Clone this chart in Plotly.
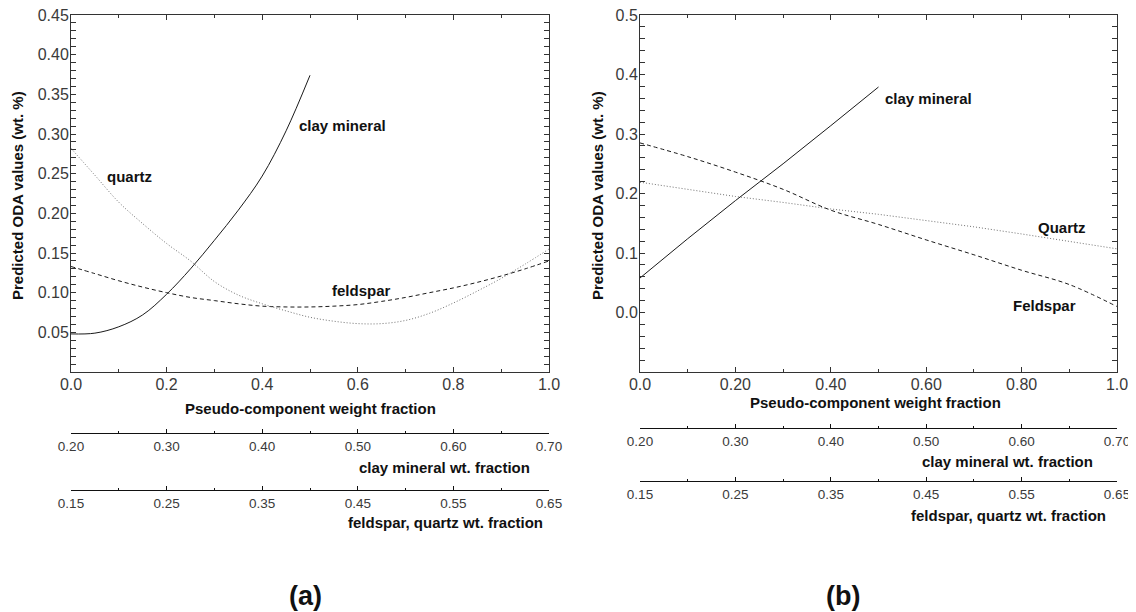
import plotly.graph_objects as go

# page is 1136x612; the html body keeps an 8px margin, so the figure starts 8px in
W, H = 1128, 604
OX, OY = 8, 8

# ---------------- data: panel (a) ----------------
x_a = [0.0, 0.05, 0.10, 0.15, 0.20, 0.25, 0.30, 0.35, 0.40, 0.45, 0.50,
       0.55, 0.60, 0.65, 0.70, 0.75, 0.80, 0.85, 0.90, 0.95, 1.0]
clay_x_a = [0.0, 0.05, 0.10, 0.15, 0.20, 0.25, 0.30, 0.35, 0.40, 0.45, 0.50]
clay_a = [0.048, 0.049, 0.057, 0.072, 0.098, 0.130, 0.166, 0.204, 0.247, 0.304, 0.374]
feldspar_a = [0.133, 0.124, 0.115, 0.107, 0.100, 0.094, 0.090, 0.086, 0.083, 0.082, 0.082,
              0.083, 0.085, 0.089, 0.094, 0.100, 0.106, 0.113, 0.121, 0.130, 0.140]
quartz_a = [0.282, 0.248, 0.214, 0.187, 0.162, 0.140, 0.114, 0.097, 0.086, 0.077, 0.069,
            0.064, 0.061, 0.061, 0.065, 0.074, 0.087, 0.102, 0.118, 0.136, 0.155]

# ---------------- data: panel (b) ----------------
x_b = [0.0, 0.1, 0.2, 0.3, 0.4, 0.5, 0.6, 0.7, 0.8, 0.9, 1.0]
clay_x_b = [0.0, 0.1, 0.2, 0.3, 0.4, 0.5]
clay_b = [0.058, 0.124, 0.188, 0.250, 0.314, 0.379]
feldspar_b = [0.285, 0.262, 0.236, 0.207, 0.172, 0.148, 0.122, 0.097, 0.071, 0.047, 0.010]
quartz_b = [0.219, 0.207, 0.195, 0.185, 0.174, 0.165, 0.155, 0.144, 0.132, 0.120, 0.107]

# ---------------- tick labels ----------------
ya_vals = [0.05, 0.10, 0.15, 0.20, 0.25, 0.30, 0.35, 0.40, 0.45]
ya_text = ["0.05", "0.10", "0.15", "0.20", "0.25", "0.30", "0.35", "0.40", "0.45"]
yb_vals = [0.0, 0.1, 0.2, 0.3, 0.4, 0.5]
yb_text = ["0.0", "0.1", "0.2", "0.3", "0.4", "0.5"]
xa_vals = [0.0, 0.2, 0.4, 0.6, 0.8, 1.0]
xa_text = ["0.0", "0.2", "0.4", "0.6", "0.8", "1.0"]
xb_text = ["0.0", "0.20", "0.40", "0.60", "0.80", "1.0"]
clay_vals = [0.20, 0.30, 0.40, 0.50, 0.60, 0.70]
clay_text = ["0.20", "0.30", "0.40", "0.50", "0.60", "0.70"]
fq_vals = [0.15, 0.25, 0.35, 0.45, 0.55, 0.65]
fq_text = ["0.15", "0.25", "0.35", "0.45", "0.55", "0.65"]

FONT = "Liberation Sans, Arial, sans-serif"
TICKC = "#3a3a3a"


def px(x):
    return (x - OX) / W


def py(y):
    return 1 - (y - OY) / H


fig = go.Figure()

# panel (a)
fig.add_trace(go.Scatter(x=clay_x_a, y=clay_a, mode="lines", line=dict(color="#1a1a1a", width=1, shape="spline"),
                         xaxis="x", yaxis="y"))
fig.add_trace(go.Scatter(x=x_a, y=feldspar_a, mode="lines",
                         line=dict(color="#1a1a1a", width=1, dash="4px,3px", shape="spline"), xaxis="x", yaxis="y"))
fig.add_trace(go.Scatter(x=x_a, y=quartz_a, mode="lines",
                         line=dict(color="#707070", width=1, dash="1px,2px", shape="spline"), xaxis="x", yaxis="y"))
# panel (b)
fig.add_trace(go.Scatter(x=clay_x_b, y=clay_b, mode="lines", line=dict(color="#1a1a1a", width=1),
                         xaxis="x2", yaxis="y2"))
fig.add_trace(go.Scatter(x=x_b, y=feldspar_b, mode="lines",
                         line=dict(color="#1a1a1a", width=1, dash="4px,3px", shape="spline"), xaxis="x2", yaxis="y2"))
fig.add_trace(go.Scatter(x=x_b, y=quartz_b, mode="lines",
                         line=dict(color="#707070", width=1, dash="1px,2px"), xaxis="x2", yaxis="y2"))

# invisible carriers for the secondary axes (and their end-tick overlays)
for xa, rng, ya in [("x3", clay_vals, "y"), ("x4", fq_vals, "y"), ("x5", clay_vals, "y2"), ("x6", fq_vals, "y2"),
                    ("x7", clay_vals, "y"), ("x8", fq_vals, "y"), ("x9", clay_vals, "y2"), ("x10", fq_vals, "y2")]:
    fig.add_trace(go.Scatter(x=[rng[0], rng[-1]], y=[0.2, 0.2], mode="lines", opacity=0,
                             line=dict(width=0), hoverinfo="skip", xaxis=xa, yaxis=ya))

dom_a = [px(71), px(549)]
dom_b = [px(640), px(1117)]
dom_y = [py(372), py(15)]

main_axis = dict(showline=True, linecolor="#333", linewidth=1, mirror="allticks", ticks="inside",
                 ticklen=5, tickcolor="#333", showgrid=False, zeroline=False, automargin=False,
                 ticklabeloverflow="allow", ticklabelstandoff=-2,
                 tickfont=dict(family=FONT, size=16, color=TICKC))


def sec_axis(domain, pos, vals, text):
    return dict(domain=domain, anchor="free", position=pos, range=[vals[0], vals[-1]], side="bottom",
                showline=True, linecolor="#111", linewidth=1, ticks="inside", ticklen=4, tickcolor="#111",
                tickvals=vals, ticktext=text, showgrid=False, zeroline=False, automargin=False,
                ticklabelstandoff=1, ticklabeloverflow="allow",
                minor=dict(ticks="inside", dtick=0.05, tick0=vals[0], ticklen=2, tickcolor="#111"),
                tickfont=dict(family=FONT, size=13.5, color=TICKC))


def end_ticks(base, pos, vals):
    return dict(overlaying=base, anchor="free", position=pos, range=[vals[0], vals[-1]], side="bottom",
                showline=False, ticks="inside", ticklen=10, tickcolor="#111", tickwidth=1,
                tickvals=[vals[0], vals[-1]], showticklabels=False, showgrid=False, zeroline=False,
                automargin=False)


fig.update_layout(
    width=W, height=H, margin=dict(l=0, r=0, t=0, b=0, autoexpand=False),
    paper_bgcolor="white", plot_bgcolor="rgba(0,0,0,0)", showlegend=False,
    xaxis=dict(main_axis, domain=dom_a, range=[0, 1], anchor="y", tickvals=xa_vals, ticktext=xa_text,
               minor=dict(ticks="inside", dtick=0.1, ticklen=3, tickcolor="#333")),
    yaxis=dict(main_axis, domain=dom_y, range=[0, 0.45], anchor="x", tickvals=ya_vals, ticktext=ya_text,
               minor=dict(ticks="inside", dtick=0.01, ticklen=3, tickcolor="#333")),
    xaxis2=dict(main_axis, domain=dom_b, range=[0, 1], anchor="y2", tickvals=xa_vals, ticktext=xb_text,
                minor=dict(ticks="inside", dtick=0.1, ticklen=3, tickcolor="#333")),
    yaxis2=dict(main_axis, domain=dom_y, range=[-0.1, 0.5], anchor="x2", tickvals=yb_vals, ticktext=yb_text,
                minor=dict(ticks="inside", dtick=0.02, ticklen=3, tickcolor="#333")),
    xaxis3=sec_axis(dom_a, py(433), clay_vals, clay_text),
    xaxis4=sec_axis(dom_a, py(490), fq_vals, fq_text),
    xaxis5=sec_axis(dom_b, py(428), clay_vals, clay_text),
    xaxis6=sec_axis(dom_b, py(481), fq_vals, fq_text),
    xaxis7=end_ticks("x3", py(433), clay_vals),
    xaxis8=end_ticks("x4", py(490), fq_vals),
    xaxis9=end_ticks("x5", py(428), clay_vals),
    xaxis10=end_ticks("x6", py(481), fq_vals),
)

bold = dict(family=FONT, size=15, color="#111")
ann = []
# curve labels
for x, y, xr, yr, t in [(0.569, 0.311, "x", "y", "clay mineral"), (0.123, 0.246, "x", "y", "quartz"),
                        (0.607, 0.103, "x", "y", "feldspar"), (0.604, 0.359, "x2", "y2", "clay mineral"),
                        (0.885, 0.143, "x2", "y2", "Quartz"), (0.847, 0.012, "x2", "y2", "Feldspar")]:
    ann.append(dict(x=x, y=y, xref=xr, yref=yr, text="<b>%s</b>" % t, showarrow=False, font=bold,
                    xanchor="center", yanchor="middle"))

tfont = dict(family=FONT, size=15, color="#111")


def pann(x, y, text, xanchor="center", angle=0, font=tfont):
    return dict(x=px(x), y=py(y), xref="paper", yref="paper", text="<b>%s</b>" % text, textangle=angle,
                showarrow=False, font=font, xanchor=xanchor, yanchor="middle")


ann += [
    pann(17, 196, "Predicted ODA values (wt. %)", angle=-90),
    pann(597, 196, "Predicted ODA values (wt. %)", angle=-90),
    pann(310, 408, "Pseudo-component weight fraction"),
    pann(876, 402, "Pseudo-component weight fraction"),
    pann(532, 467, "clay mineral wt. fraction", xanchor="right"),
    pann(545, 522, "feldspar, quartz wt. fraction", xanchor="right"),
    pann(1095, 461, "clay mineral wt. fraction", xanchor="right"),
    pann(1108, 515, "feldspar, quartz wt. fraction", xanchor="right"),
    pann(305, 596, "(a)", font=dict(family=FONT, size=27, color="#111")),
    pann(843, 596, "(b)", font=dict(family=FONT, size=27, color="#111")),
]
fig.update_layout(annotations=ann)

fig.write_html("out.html")
